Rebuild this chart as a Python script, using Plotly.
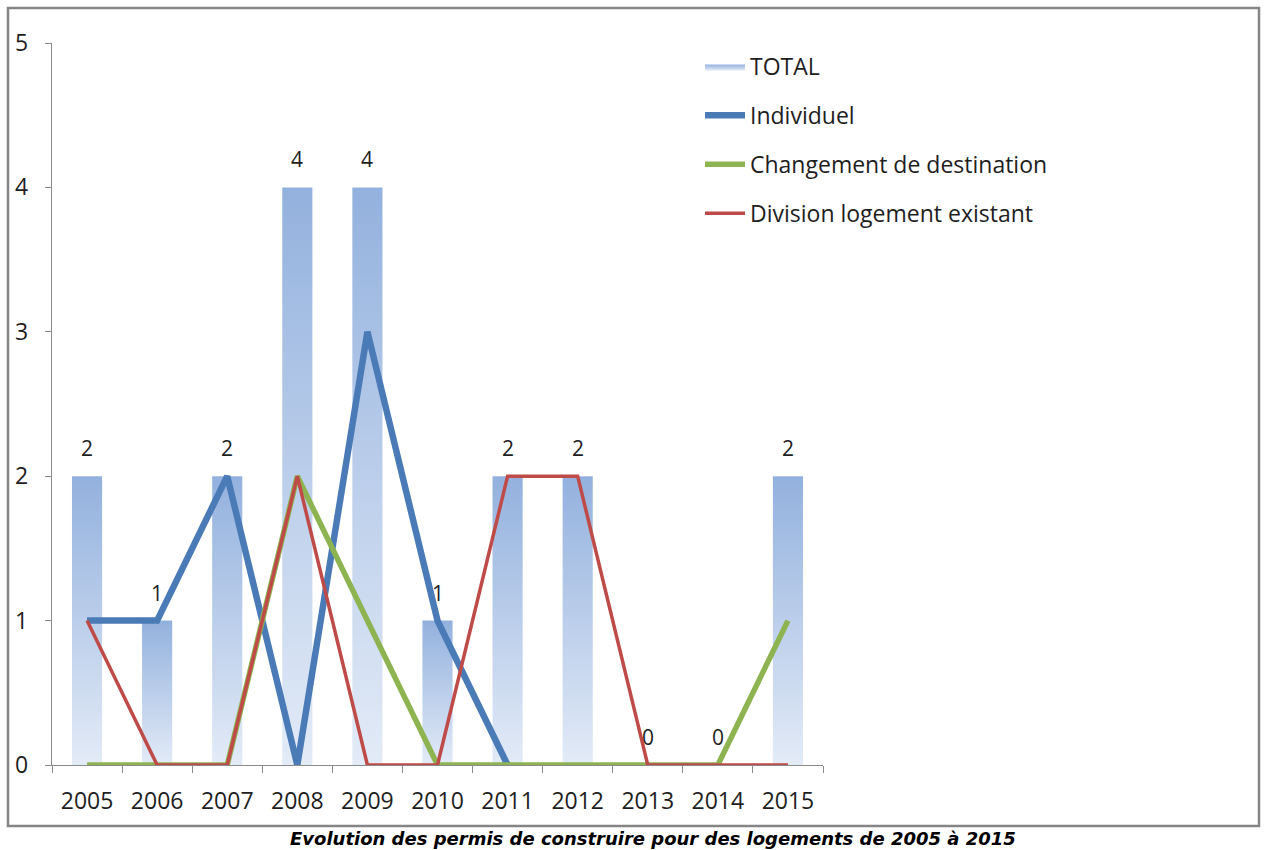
import plotly.graph_objects as go

# Data
years = ["2005", "2006", "2007", "2008", "2009", "2010",
         "2011", "2012", "2013", "2014", "2015"]
total = [2, 1, 2, 4, 4, 1, 2, 2, 0, 0, 2]
individuel = [1, 1, 2, 0, 3, 1, 0, None, None, None, None]
changement = [0, 0, 0, 2, 1, 0, 0, 0, 0, 0, 1]
division = [1, 0, 0, 2, 0, 0, 2, 2, 0, 0, 0]

W, H = 1264, 850
PLOT_L, PLOT_R, PLOT_T, PLOT_B = 52, 823, 43, 765
BAR_HALF = 0.215

FONT = "Open Sans"
TXT = "#1e1e1e"
AXIS = "#8a8a8a"

fig = go.Figure()

# TOTAL bars: one filled polygon per year, each with its own vertical gradient
idx = list(range(len(years)))
first = True
for i, v in zip(idx, total):
    if v <= 0:
        continue
    fig.add_trace(go.Scatter(
        x=[i - BAR_HALF, i + BAR_HALF, i + BAR_HALF, i - BAR_HALF, i - BAR_HALF],
        y=[0, 0, v, v, 0],
        mode="lines", fill="toself",
        line=dict(width=0, color="rgba(0,0,0,0)"),
        fillgradient=dict(type="vertical",
                          colorscale=[[0, "#E3EBF7"], [1, "#93B1DE"]]),
        name="TOTAL", legendgroup="total", showlegend=first,
        hoverinfo="skip",
    ))
    first = False

# Lines
series = [
    ("Individuel", individuel, "#4A7BB7", 6.5),
    ("Changement de destination", changement, "#8DB451", 5.5),
    ("Division logement existant", division, "#BE4B48", 3.5),
]
for name, vals, color, width in series:
    fig.add_trace(go.Scatter(
        x=idx, y=vals, mode="lines", name=name, legendgroup=name,
        line=dict(color=color, width=width),
        connectgaps=False, hoverinfo="skip",
    ))

# Value labels above the TOTAL bars
for i, v in zip(idx, total):
    fig.add_annotation(x=i, y=v, text=str(v), showarrow=False, yshift=28,
                       font=dict(family=FONT, size=21, color=TXT))

# Chart frame
fig.add_shape(type="rect", xref="paper", yref="paper",
              x0=8 / W, x1=1259 / W, y0=1 - 826 / H, y1=1 - 8 / H,
              line=dict(color="#858585", width=2.5), layer="below")

# Caption under the frame
fig.add_annotation(
    xref="paper", yref="paper", x=653 / W, y=1 - 838 / H,
    text="<b><i>Evolution des permis de construire pour des logements de 2005 à 2015</i></b>",
    showarrow=False, xanchor="center", yanchor="middle",
    font=dict(family="DejaVu Sans", size=18, color="#000000"),
)

fig.update_layout(
    width=W, height=H,
    margin=dict(l=0, r=0, t=0, b=0, autoexpand=False),
    paper_bgcolor="white", plot_bgcolor="white",
    font=dict(family=FONT, size=22, color=TXT),
    showlegend=True,
    legend=dict(x=700 / W, y=1 - 45 / H, xanchor="left", yanchor="top",
                bgcolor="rgba(0,0,0,0)", font=dict(family=FONT, size=23, color=TXT),
                tracegroupgap=16, itemwidth=40),
    xaxis=dict(
        domain=[PLOT_L / W, PLOT_R / W],
        range=[-0.5, len(years) - 0.5],
        tickmode="array", tickvals=idx, ticktext=years,
        ticks="", showgrid=False, zeroline=False,
        showline=True, linecolor=AXIS, linewidth=1.3,
        ticklabelstandoff=15, automargin=False,
        minor=dict(tick0=-0.5, dtick=1, ticks="outside", ticklen=7,
                   tickcolor=AXIS, showgrid=False),
        tickfont=dict(family=FONT, size=23, color=TXT),
        fixedrange=True,
    ),
    yaxis=dict(
        domain=[1 - PLOT_B / H, 1 - PLOT_T / H],
        range=[0, 5], tickvals=[0, 1, 2, 3, 4, 5],
        ticks="outside", ticklen=6, tickcolor=AXIS,
        showgrid=False, zeroline=False,
        showline=True, linecolor=AXIS, linewidth=1.3,
        ticklabelstandoff=12, automargin=False,
        tickfont=dict(family=FONT, size=23, color=TXT),
        fixedrange=True,
    ),
)

fig.write_html("out.html")
